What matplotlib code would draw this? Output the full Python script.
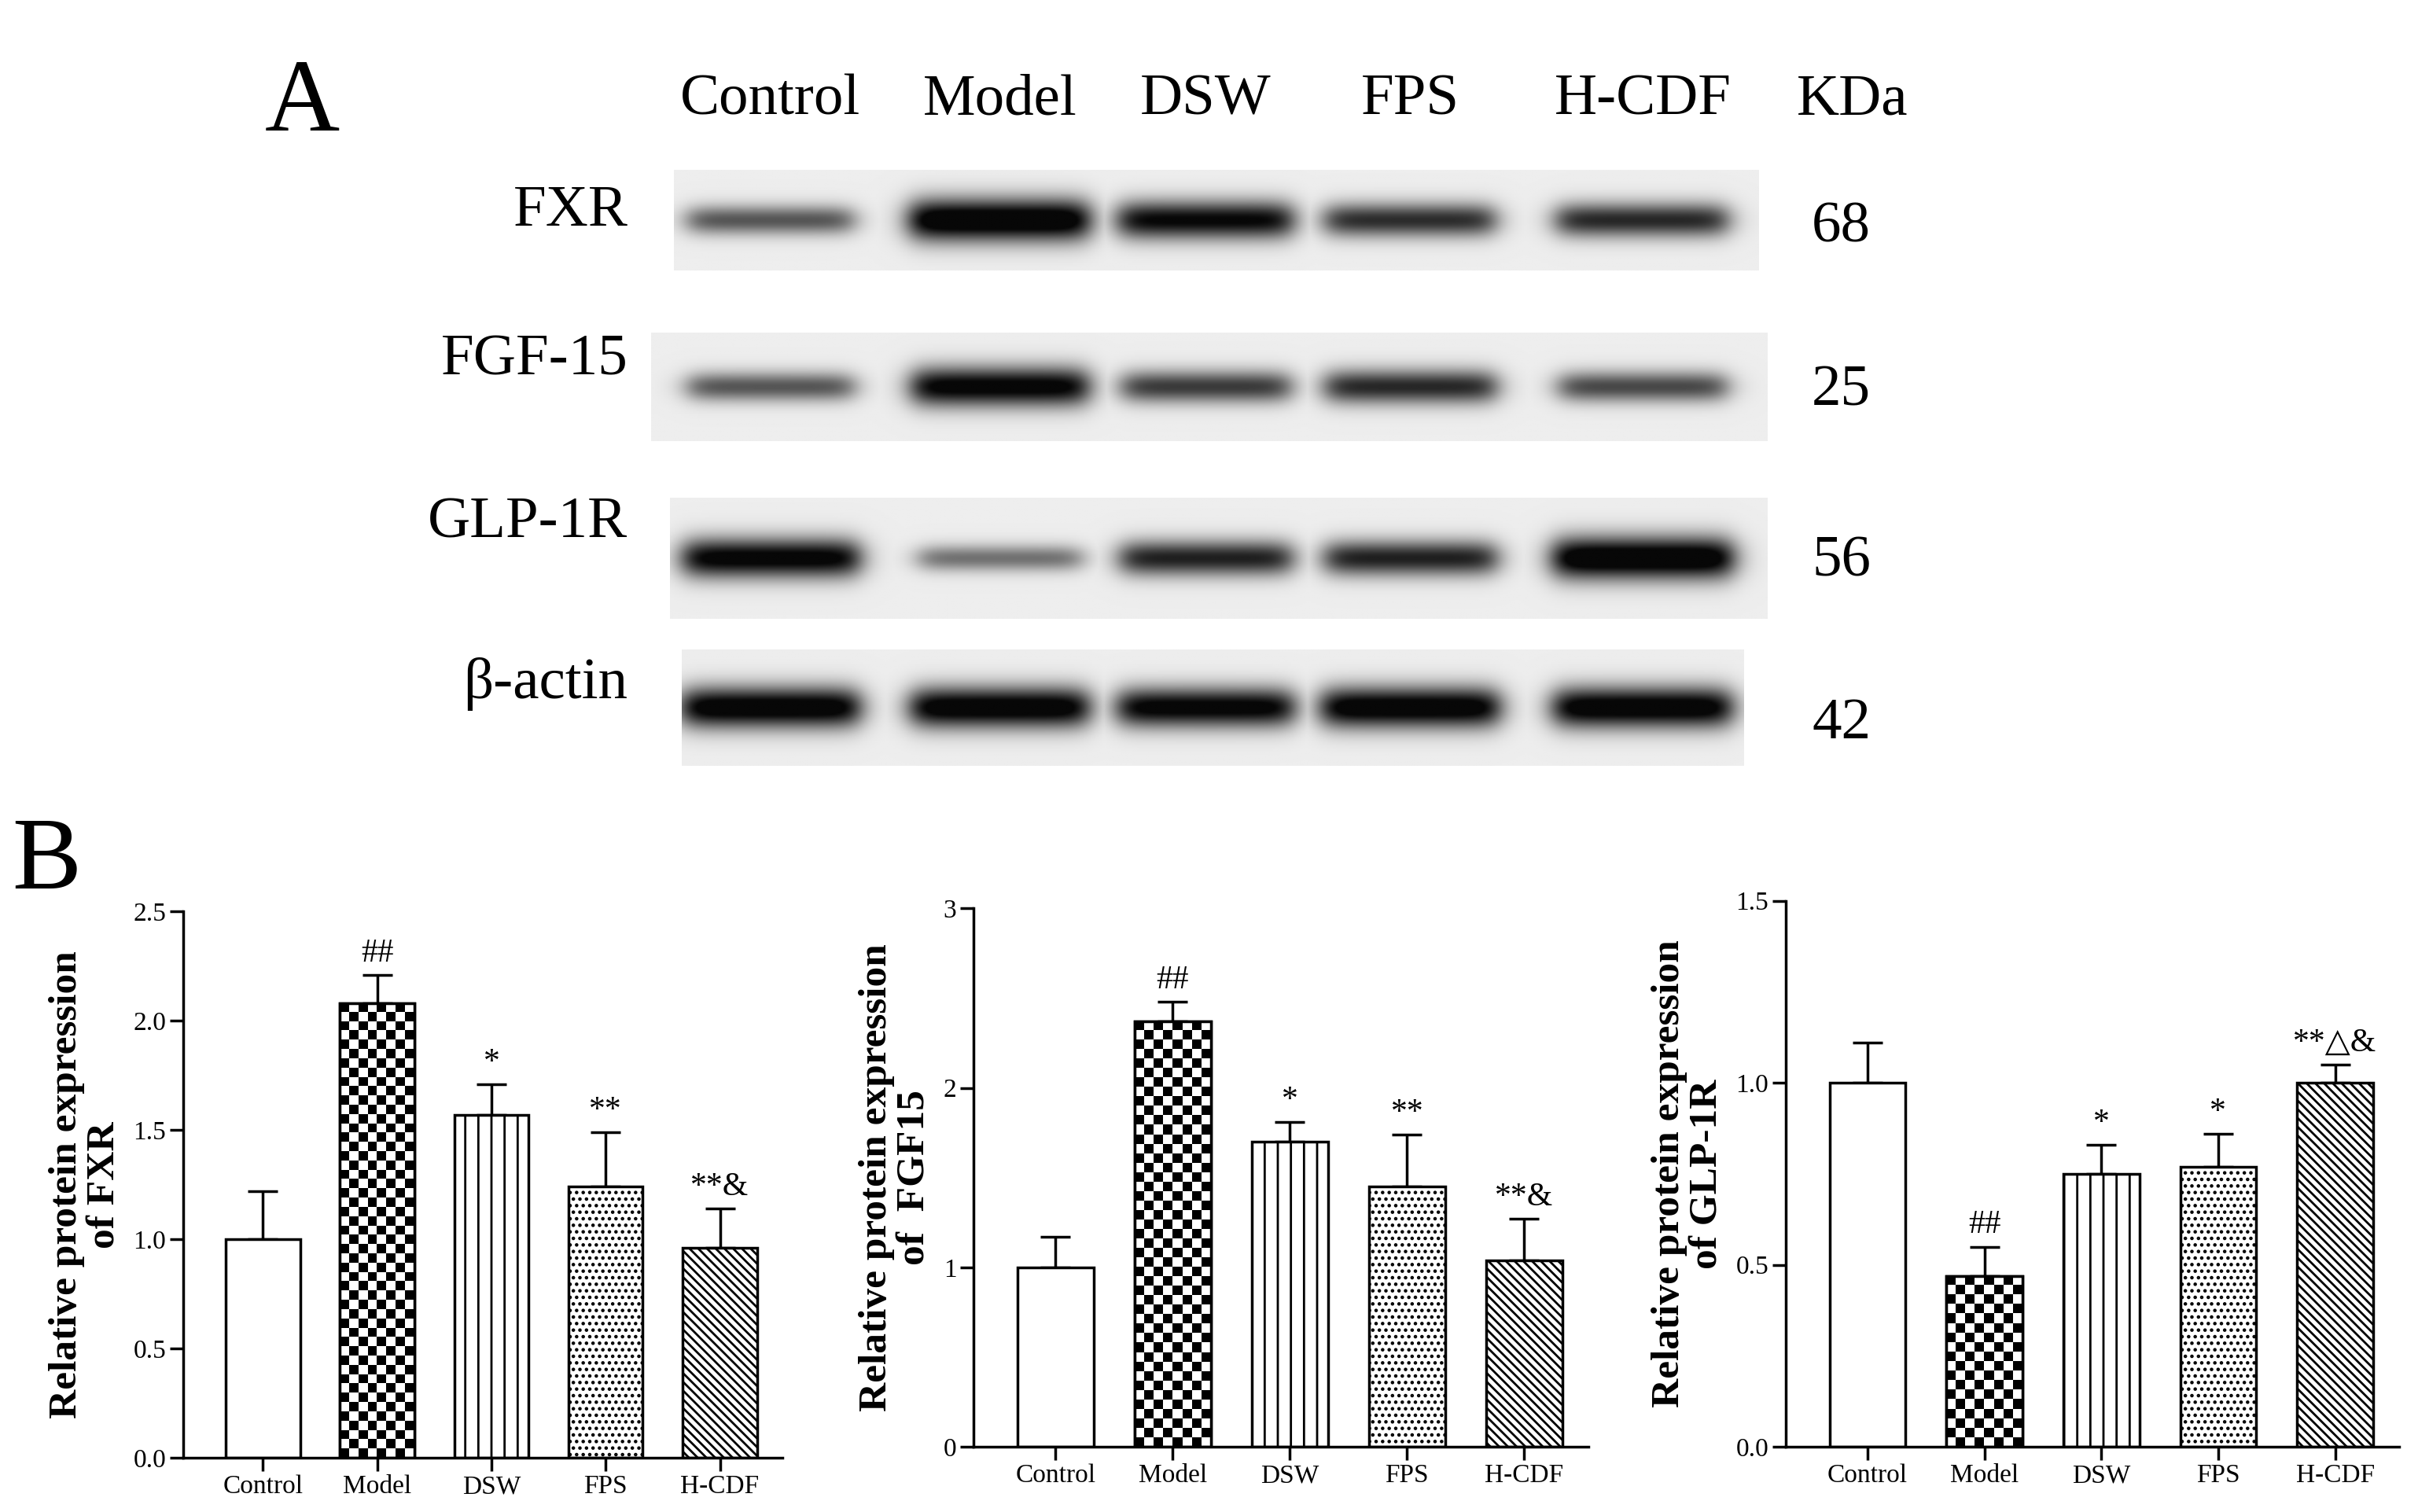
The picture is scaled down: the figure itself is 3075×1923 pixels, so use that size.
import numpy as np
import matplotlib
matplotlib.use("Agg")
import matplotlib.pyplot as plt

plt.rcParams['font.family'] = ['Liberation Serif', 'DejaVu Serif']
plt.rcParams['hatch.linewidth'] = 2.0

groups = ["Control", "Model", "DSW", "FPS", "H-CDF"]
blot_rows = ["FXR", "FGF-15", "GLP-1R", "β-actin"]
kda = ["68", "25", "56", "42"]
band_intensity = {
    "FXR": [0.55, 1.0, 0.85, 0.7, 0.72],
    "FGF-15": [0.55, 0.9, 0.65, 0.72, 0.6],
    "GLP-1R": [0.9, 0.45, 0.75, 0.75, 1.0],
    "β-actin": [0.95, 0.95, 0.9, 0.95, 0.95],
}
fxr_mean = [1.00, 2.08, 1.57, 1.24, 0.96]
fxr_err = [0.22, 0.13, 0.14, 0.25, 0.18]
fxr_sig = ["", "##", "*", "**", "**&"]
fgf_mean = [1.00, 2.37, 1.70, 1.45, 1.04]
fgf_err = [0.17, 0.11, 0.11, 0.29, 0.23]
fgf_sig = ["", "##", "*", "**", "**&"]
glp_mean = [1.00, 0.47, 0.75, 0.77, 1.00]
glp_err = [0.11, 0.08, 0.08, 0.09, 0.05]
glp_sig = ["", "##", "*", "*", "**△&"]

W, H = 1560, 977
fig = plt.figure(figsize=(30.75, 19.23), dpi=100)
bg = fig.add_axes([0, 0, 1, 1])
bg.set_xlim(0, W); bg.set_ylim(H, 0); bg.axis('off')

bg.text(195, 68, "A", fontsize=95, ha='center', va='center')
bg.text(30, 558, "B", fontsize=95, ha='center', va='center')
lane_x = [497, 645, 778, 910, 1060]
for g, x in zip(groups, lane_x):
    bg.text(x, 65, g, fontsize=54, ha='center', va='center')
bg.text(1195, 65, "KDa", fontsize=54, ha='center', va='center')

strips = [(435, 1135, 110, 175, 137, 147), (420, 1140, 215, 285, 233, 253),
          (432, 1140, 322, 400, 338, 363), (440, 1125, 420, 495, 442, 468)]
for name, k, (x0, x1, y0, y1, ly, ky) in zip(blot_rows, kda, strips):
    bg.text(405, ly, name, fontsize=54, ha='right', va='center')
    bg.text(1188, ky, k, fontsize=54, ha='center', va='center')
    nx, ny = 700, 80
    xs = np.linspace(x0, x1, nx); ys = np.linspace(y0, y1, ny)
    X, Y = np.meshgrid(xs, ys)
    img = np.zeros_like(X)
    yc = (y0 + y1) / 2
    for xc, a in zip(lane_x, band_intensity[name]):
        hw = 48 + 10 * a
        th = 4 + 10 * a
        prof_x = 1 / (1 + np.exp((np.abs(X - xc) - hw) / 5))
        prof_y = np.exp(-((Y - yc) / th) ** 2)
        img = np.maximum(img, a * prof_x * prof_y)
    shade = 0.93 - 0.9 * np.clip(img * 1.2, 0, 1)
    bg.imshow(shade, extent=(x0, x1, y1, y0), cmap='gray', vmin=0, vmax=1,
              aspect='auto', interpolation='bilinear', zorder=1)
bg.set_xlim(0, W); bg.set_ylim(H, 0)

def fr(x0, y0, x1, y1):
    return [x0 / W, 1 - y1 / H, (x1 - x0) / W, (y1 - y0) / H]

panels = [
    (fr(118, 589, 505, 942), fxr_mean, fxr_err, fxr_sig, 2.5, [0, 0.5, 1.0, 1.5, 2.0, 2.5],
     "Relative protein expression\nof FXR"),
    (fr(628, 587, 1025, 935), fgf_mean, fgf_err, fgf_sig, 3, [0, 1, 2, 3],
     "Relative protein expression\nof  FGF15"),
    (fr(1152, 582, 1548, 935), glp_mean, glp_err, glp_sig, 1.5, [0, 0.5, 1.0, 1.5],
     "Relative protein expression\nof GLP-1R"),
]
hatches = [None, None, '|', '..', '\\\\\\']
for rect, m, e, s, ymax, ticks, lab in panels:
    ax = fig.add_axes(rect)
    xpos = np.arange(5)
    bars = ax.bar(xpos, m, width=0.65, color='white', edgecolor='black', linewidth=2.5, zorder=2)
    for b, h in zip(bars, hatches):
        if h:
            b.set_hatch(h)
    b = bars[1]
    bx, bw, bh = b.get_x(), b.get_width(), b.get_height()
    nxc = 8; nyc = int(round(bh / bw * nxc * (ax.get_position().height * 1923 / ymax) /
                              (ax.get_position().width * 3075 / 5.25)))
    nyc = max(nyc, 1)
    checker = (np.add.outer(np.arange(nyc), np.arange(nxc)) % 2).astype(float)
    im = ax.imshow(checker, extent=(bx, bx + bw, 0, bh), cmap='gray', vmin=0, vmax=1,
                   aspect='auto', interpolation='nearest', zorder=2.5)
    im.set_clip_path(b)
    ax.bar([1], [m[1]], width=0.65, color='none', edgecolor='black', linewidth=2.5, zorder=3)
    ax.errorbar(xpos, m, yerr=[np.zeros(5), e], fmt='none', ecolor='black',
                elinewidth=2.5, capsize=14, capthick=2.5, zorder=1)
    for xi, mi, ei, si in zip(xpos, m, e, s):
        if si:
            ax.text(xi, mi + ei + ymax * 0.012, si, ha='center', va='bottom', fontsize=30)
    ax.set_xlim(-0.7, 4.55)
    ax.set_ylim(0, ymax)
    ax.set_yticks(ticks)
    ax.set_yticklabels([f"{t:.1f}" if ymax != 3 else f"{t:g}" for t in ticks], fontsize=24)
    ax.set_xticks(xpos)
    ax.set_xticklabels(groups, fontsize=24)
    ax.tick_params(axis='both', width=2.5, length=12, direction='out')
    for sp in ['top', 'right']:
        ax.spines[sp].set_visible(False)
    for sp in ['left', 'bottom']:
        ax.spines[sp].set_linewidth(2.5)
    ax.set_ylabel(lab, fontsize=37, fontweight='bold', linespacing=1.05, labelpad=10)
    ax.patch.set_alpha(0)

fig.savefig("out.png", dpi=100)
